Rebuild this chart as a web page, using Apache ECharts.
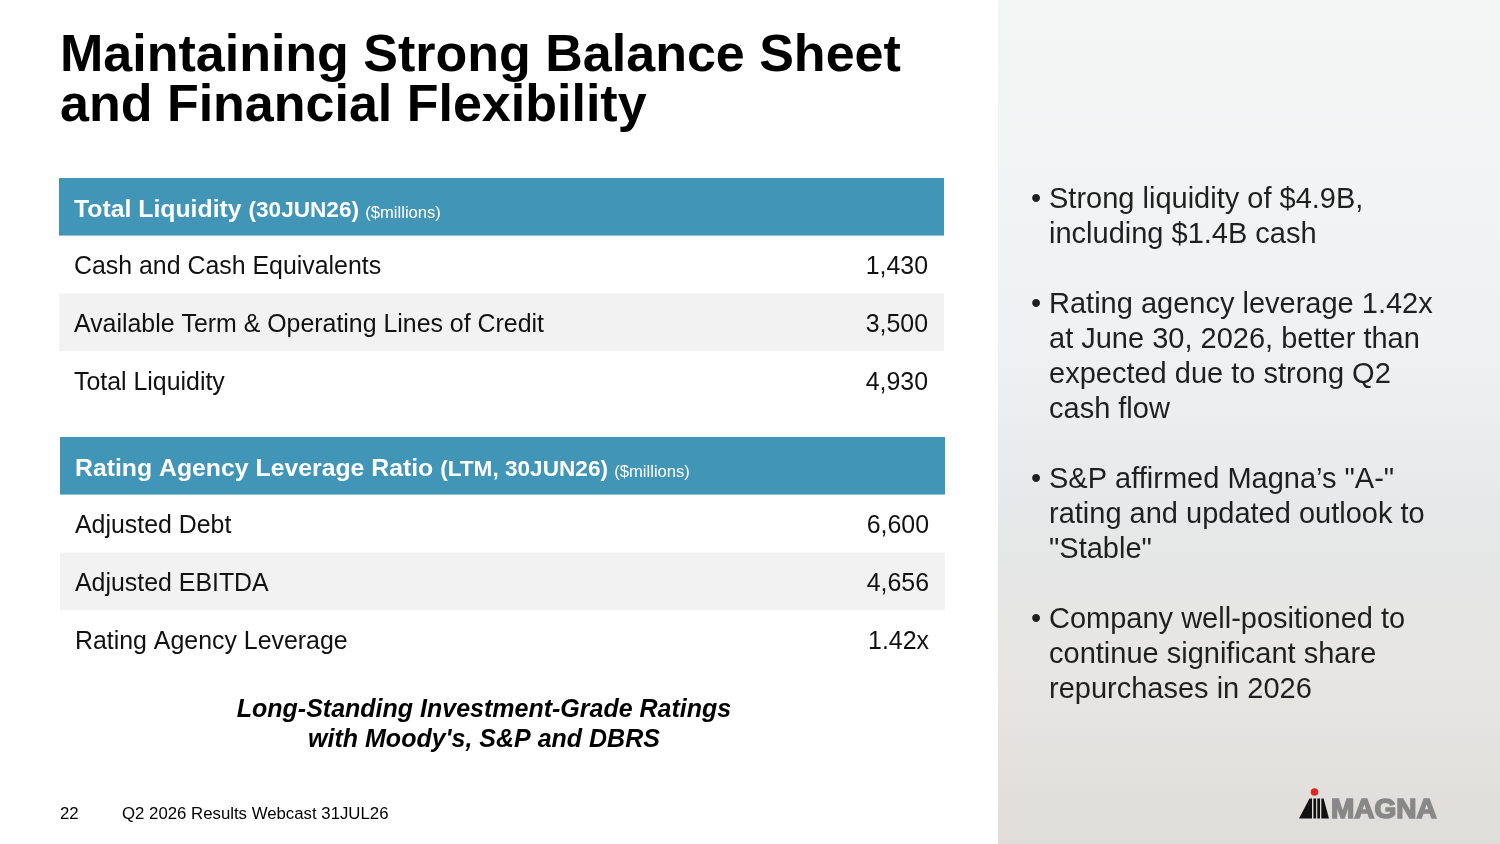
<!DOCTYPE html>
<html>
<head>
<meta charset="utf-8">
<script src="https://cdn.jsdelivr.net/npm/echarts@6/dist/echarts.min.js"></script>
<style>
html, body { margin: 0; padding: 0; background: #fff; }
#slide { width: 1500px; height: 844px; }
</style>
</head>
<body>
<div id="slide"></div>
<script>
// ==============================================================
// slide data
// ==============================================================
var FONT = '"Liberation Sans", Arial, sans-serif';

var titleLines = ['Maintaining Strong Balance Sheet', 'and Financial Flexibility'];

var liquidityHeader = ['Total Liquidity', '(30JUN26)', '($millions)'];
var liquidityLabels = ['Cash and Cash Equivalents', 'Available Term & Operating Lines of Credit', 'Total Liquidity'];
var liquidityValues = [1430, 3500, 4930];
var liquidityUnits = ['', '', ''];

var leverageHeader = ['Rating Agency Leverage Ratio', '(LTM, 30JUN26)', '($millions)'];
var leverageLabels = ['Adjusted Debt', 'Adjusted EBITDA', 'Rating Agency Leverage'];
var leverageValues = [6600, 4656, 1.42];
var leverageUnits = ['', '', 'x'];

var footnoteLines = ['Long-Standing Investment-Grade Ratings', "with Moody's, S&P and DBRS"];

var bulletLines = [
    ['Strong liquidity of $4.9B,', 'including $1.4B cash'],
    ['Rating agency leverage 1.42x', 'at June 30, 2026, better than', 'expected due to strong Q2', 'cash flow'],
    ['S&P affirmed Magna\u2019s "A-"', 'rating and updated outlook to', '"Stable"'],
    ['Company well-positioned to', 'continue significant share', 'repurchases in 2026']
];

var pageNumber = '22';
var footerText = 'Q2 2026 Results Webcast 31JUL26';
var logoText = 'MAGNA';

// ==============================================================
// helpers
// ==============================================================
function fmtValue(v, unit) {
    if (unit === 'x') return v.toFixed(2) + 'x';
    return String(v).replace(/\B(?=(\d{3})+(?!\d))/g, ',');
}

function tableSeries(idx, header, labels, values, units) {
    var rows = [[0, 0]];
    labels.forEach(function (l, i) { rows.push([0, i + 1]); });
    return {
        type: 'custom',
        xAxisIndex: idx,
        yAxisIndex: idx,
        encode: { x: 0, y: 1 },
        data: rows,
        renderItem: function (params, api) {
            var row = api.value(1);
            var cs = params.coordSys;
            var mid = api.coord([0, row])[1];
            var h = api.size([0, 1])[1];
            var top = mid - h / 2;
            var kids = [];
            if (row === 0) {
                kids.push({ type: 'rect', shape: { x: cs.x, y: top, width: cs.width, height: h }, style: { fill: '#4195b7' } });
                kids.push({
                    type: 'text',
                    style: {
                        x: cs.x + 15, y: mid + 2, align: 'left', verticalAlign: 'middle',
                        text: '{a|' + header[0] + ' }{b|' + header[1] + ' }{c|' + header[2] + '}',
                        rich: {
                            a: { fontSize: 24.8, fontWeight: 'bold', fontFamily: FONT, fill: '#fff', lineHeight: 27, verticalAlign: 'bottom' },
                            b: { fontSize: 22.6, fontWeight: 'bold', fontFamily: FONT, fill: '#fff', lineHeight: 25, verticalAlign: 'bottom' },
                            c: { fontSize: 16.6, fontFamily: FONT, fill: '#fff', lineHeight: 19.5, verticalAlign: 'bottom' }
                        }
                    }
                });
            } else {
                kids.push({ type: 'rect', shape: { x: cs.x, y: top, width: cs.width, height: h }, style: { fill: row % 2 === 0 ? '#f2f2f2' : '#ffffff' } });
                kids.push({ type: 'text', style: { x: cs.x + 15, y: mid + 3, text: labels[row - 1], fill: '#111', font: '24.9px ' + FONT, align: 'left', verticalAlign: 'middle' } });
                kids.push({ type: 'text', style: { x: cs.x + cs.width - 16, y: mid + 3, text: fmtValue(values[row - 1], units[row - 1]), fill: '#111', font: '24.9px ' + FONT, align: 'right', verticalAlign: 'middle' } });
            }
            return { type: 'group', children: kids };
        }
    };
}

// ==============================================================
// decorations (title, bullets, footer, logo)
// ==============================================================
var graphics = [];

graphics.push({
    type: 'rect', z: -10, silent: true,
    shape: { x: 998, y: 0, width: 502, height: 844 },
    style: {
        fill: new echarts.graphic.LinearGradient(0, 0, 0, 1, [
            { offset: 0, color: '#f4f5f5' },
            { offset: 0.4, color: '#f0f1f2' },
            { offset: 0.58, color: '#e8e9ea' },
            { offset: 0.66, color: '#e5e6e6' },
            { offset: 0.8, color: '#e7e6e4' },
            { offset: 1, color: '#dfddd9' }
        ])
    }
});

titleLines.forEach(function (t, i) {
    graphics.push({ type: 'text', style: { x: 60, y: 57 + i * 50, text: t, fill: '#000', font: 'bold 52px ' + FONT, verticalAlign: 'middle' } });
});

var lineNo = 0;
bulletLines.forEach(function (lines, b) {
    var y0 = 199.5 + 35 * (lineNo + b);
    graphics.push({ type: 'text', style: { x: 1031, y: y0, text: '\u2022', fill: '#1f1f1f', font: '29px ' + FONT, verticalAlign: 'middle' } });
    lines.forEach(function (l, k) {
        graphics.push({ type: 'text', style: { x: 1049, y: y0 + 35 * k, text: l, fill: '#1f1f1f', font: '29px ' + FONT, verticalAlign: 'middle' } });
    });
    lineNo += lines.length;
});

footnoteLines.forEach(function (t, i) {
    graphics.push({ type: 'text', style: { x: 484, y: 710 + i * 30, text: t, fill: '#000', font: 'italic bold 25px ' + FONT, align: 'center', verticalAlign: 'middle' } });
});

graphics.push({ type: 'text', style: { x: 60, y: 814, text: pageNumber, fill: '#000', font: '16.8px ' + FONT, verticalAlign: 'middle' } });
graphics.push({ type: 'text', style: { x: 122, y: 814, text: footerText, fill: '#000', font: '16.8px ' + FONT, verticalAlign: 'middle' } });

// magna mark
graphics.push({ type: 'circle', shape: { cx: 1314.5, cy: 792, r: 3.8 }, style: { fill: '#e0261f' } });
graphics.push({ type: 'polygon', shape: { points: [[1299, 818.5], [1309.5, 798.5], [1312, 798.5], [1312, 818.5]] }, style: { fill: '#111' } });
graphics.push({ type: 'rect', shape: { x: 1313.4, y: 798.5, width: 2.7, height: 20 }, style: { fill: '#111' } });
graphics.push({ type: 'rect', shape: { x: 1317.3, y: 798.5, width: 2.7, height: 20 }, style: { fill: '#111' } });
graphics.push({ type: 'polygon', shape: { points: [[1321.3, 798.5], [1323.6, 798.5], [1329, 818.5], [1321.3, 818.5]] }, style: { fill: '#111' } });
graphics.push({ type: 'text', style: { x: 1331, y: 810, text: logoText, fill: '#888', stroke: '#888', lineWidth: 1.6, font: 'bold 28px ' + FONT, verticalAlign: 'middle' } });

// ==============================================================
// chart
// ==============================================================
var dom = document.getElementById('slide');
var slideChart = echarts.init(dom);
var option = {
    animation: false,
    backgroundColor: '#ffffff',
    grid: [
        { left: 59, top: 178, width: 885, height: 231 },
        { left: 60, top: 437, width: 885, height: 231 }
    ],
    xAxis: [
        { gridIndex: 0, type: 'value', min: 0, max: 1, show: false },
        { gridIndex: 1, type: 'value', min: 0, max: 1, show: false }
    ],
    yAxis: [
        { gridIndex: 0, type: 'category', inverse: true, data: ['header'].concat(liquidityLabels), show: false },
        { gridIndex: 1, type: 'category', inverse: true, data: ['header'].concat(leverageLabels), show: false }
    ],
    series: [
        tableSeries(0, liquidityHeader, liquidityLabels, liquidityValues, liquidityUnits),
        tableSeries(1, leverageHeader, leverageLabels, leverageValues, leverageUnits)
    ],
    graphic: graphics
};
slideChart.setOption(option, true);
</script>
</body>
</html>
